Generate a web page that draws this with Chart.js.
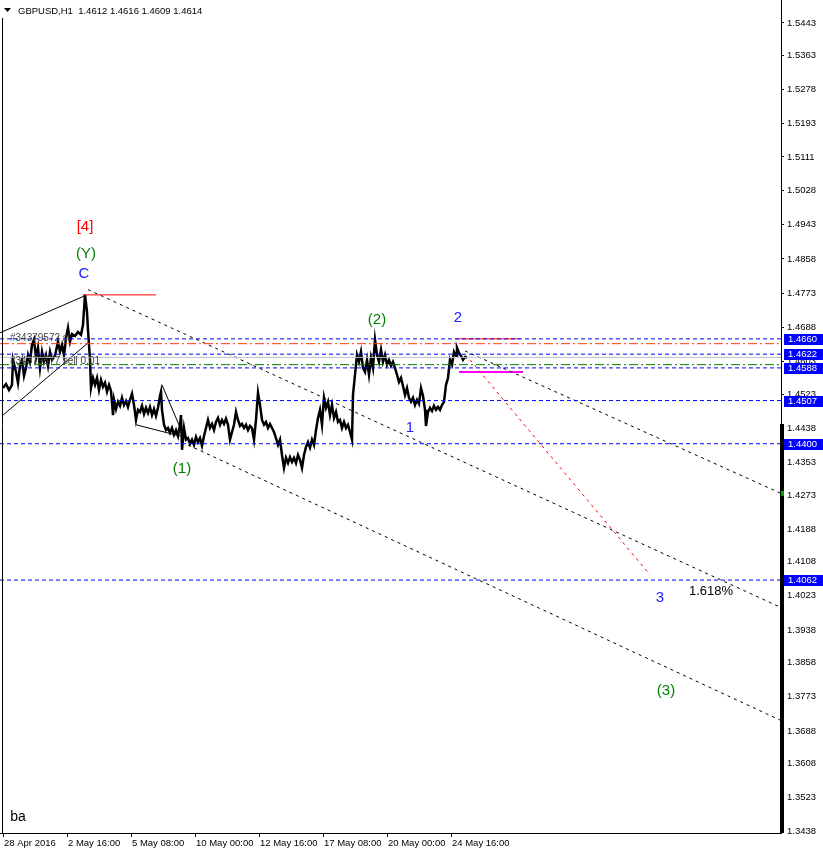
<!DOCTYPE html>
<html>
<head>
<meta charset="utf-8">
<script src="https://cdn.jsdelivr.net/npm/chart.js@4.4.0/dist/chart.umd.min.js"></script>
<style>
  html, body { margin: 0; padding: 0; background: #fff; }
</style>
</head>
<body>
<canvas id="chart" width="823" height="856"></canvas>
<script>
// GBPUSD H1, hourly bar offsets from 28 Apr 2016 and the price read at them
const hourIdx = [
  0, 3, 6, 9, 10, 13, 15, 17, 19, 21,
  23, 25, 27, 29, 31, 33, 35, 37, 39, 41,
  43, 45, 47, 49, 52, 55, 57, 59, 61, 63,
  65, 67, 69, 72, 75, 78, 80, 82, 84, 85,
  87, 88, 90, 92, 94, 96, 98, 100, 102, 104,
  106, 108, 110, 111, 113, 115, 117, 119, 121, 123,
  125, 127, 129, 131, 133, 135, 137, 139, 141, 143,
  145, 147, 149, 151, 153, 155, 157, 158, 159, 161,
  163, 165, 167, 169, 171, 173, 175, 177, 178, 179,
  181, 183, 185, 187, 189, 191, 193, 195, 197, 199,
  201, 203, 205, 207, 209, 211, 213, 215, 217, 219,
  221, 223, 225, 227, 229, 231, 233, 235, 237, 239,
  241, 243, 245, 247, 249, 251, 253, 255, 257, 259,
  261, 263, 265, 267, 269, 271, 273, 275, 277, 279,
  281, 283, 285, 287, 289, 291, 293, 295, 297, 299,
  301, 303, 305, 307, 309, 311, 313, 315, 317, 319,
  321, 323, 325, 327, 329, 331, 333, 335, 337, 339,
  341, 343, 345, 347, 349, 350, 352, 354, 356, 358,
  360, 362, 364, 366, 368, 370, 372, 374, 376, 378,
  380, 382, 384, 386, 388, 390, 392, 394, 396, 398,
  400, 402, 404, 406, 408, 410, 412, 414, 416, 418,
  420, 422, 423, 425, 427, 429, 431, 433, 435, 437,
  439, 441, 443, 445, 447, 449, 451, 453, 454, 456,
  458, 460, 462, 464
];
const closes = [
  1.4538, 1.4548, 1.4533, 1.4546, 1.4608, 1.4578, 1.4551, 1.4593, 1.4608, 1.4568,
  1.4588, 1.4620, 1.4603, 1.4645, 1.4658, 1.4613, 1.4638, 1.4588, 1.4628, 1.4603,
  1.4620, 1.4593, 1.4628, 1.4608, 1.4618, 1.4653, 1.4628, 1.4645, 1.4618, 1.4662,
  1.4687, 1.4653, 1.4672, 1.4667, 1.4677, 1.4670, 1.4695, 1.4769, 1.4727, 1.4682,
  1.4608, 1.4538, 1.4563, 1.4546, 1.4563, 1.4533, 1.4558, 1.4541, 1.4551, 1.4529,
  1.4546, 1.4531, 1.4471, 1.4509, 1.4486, 1.4504, 1.4494, 1.4514, 1.4496, 1.4506,
  1.4491, 1.4509, 1.4524, 1.4496, 1.4459, 1.4484, 1.4479, 1.4494, 1.4474, 1.4489,
  1.4476, 1.4491, 1.4471, 1.4486, 1.4469, 1.4489, 1.4519, 1.4529, 1.4484, 1.4447,
  1.4434, 1.4439, 1.4427, 1.4439, 1.4422, 1.4434, 1.4419, 1.4447, 1.4471, 1.4385,
  1.4439, 1.4410, 1.4414, 1.4400, 1.4410, 1.4397, 1.4417, 1.4404, 1.4414, 1.4395,
  1.4419, 1.4439, 1.4459, 1.4439, 1.4449, 1.4434, 1.4454, 1.4464, 1.4447, 1.4459,
  1.4449, 1.4462, 1.4447, 1.4410, 1.4429, 1.4447, 1.4479, 1.4459, 1.4444, 1.4449,
  1.4439, 1.4447, 1.4434, 1.4444, 1.4439, 1.4410, 1.4459, 1.4526, 1.4496, 1.4459,
  1.4447, 1.4454, 1.4439, 1.4449, 1.4439, 1.4429, 1.4414, 1.4397, 1.4410, 1.4372,
  1.4340, 1.4365, 1.4352, 1.4367, 1.4355, 1.4365, 1.4352, 1.4372, 1.4360, 1.4340,
  1.4372, 1.4392, 1.4404, 1.4390, 1.4410, 1.4397, 1.4434, 1.4464, 1.4484, 1.4447,
  1.4514, 1.4489, 1.4504, 1.4471, 1.4496, 1.4464, 1.4479, 1.4454, 1.4459, 1.4439,
  1.4454, 1.4439, 1.4447, 1.4429, 1.4410, 1.4521, 1.4571, 1.4620, 1.4603, 1.4628,
  1.4588, 1.4578, 1.4608, 1.4571, 1.4613, 1.4588, 1.4658, 1.4620, 1.4603, 1.4633,
  1.4603, 1.4620, 1.4596, 1.4608, 1.4593, 1.4603, 1.4588, 1.4571, 1.4553, 1.4563,
  1.4543, 1.4521, 1.4538, 1.4514, 1.4504, 1.4514, 1.4496, 1.4509, 1.4499, 1.4538,
  1.4519, 1.4484, 1.4444, 1.4479, 1.4489, 1.4481, 1.4494, 1.4484, 1.4491, 1.4484,
  1.4496, 1.4504, 1.4546, 1.4563, 1.4608, 1.4596, 1.4628, 1.4618, 1.4638, 1.4625,
  1.4618, 1.4608, 1.4615, 1.4614
];

// axis ticks
const timeTickIdx = [0, 64, 128, 192, 256, 320, 384, 448];
const timeTickText = ['28 Apr 2016', '2 May 16:00', '5 May 08:00', '10 May 00:00',
  '12 May 16:00', '17 May 08:00', '20 May 00:00', '24 May 16:00'];
const priceTicks = [1.5443, 1.5363, 1.5278, 1.5193, 1.5111, 1.5028, 1.4943, 1.4858,
  1.4773, 1.4688, 1.4603, 1.4523, 1.4438, 1.4353, 1.4273, 1.4188, 1.4108, 1.4023,
  1.3938, 1.3858, 1.3773, 1.3688, 1.3608, 1.3523, 1.3438];

// horizontal levels (blue dashed, with price boxes)
const levelPrices = [1.4660, 1.4622, 1.4588, 1.4507, 1.4400, 1.4062];
const slPrice = 1.4648;
const sellPrice = 1.4596;
const bidPrice = 1.4614;

// trend lines: [hourIdx, price] pairs
const channelTop = [[85, 1.4782], [777, 1.3995]];
const channelLow = [[185, 1.4397], [777, 1.3715]];
const channelWave2 = [[462, 1.4630], [777, 1.4278]];
const targetLine = [[467, 1.4608], [647, 1.4075]];
const wedgeUpper = [[-3, 1.4675], [82, 1.4767]];
const wedgeLower = [[0, 1.4471], [85, 1.4650]];
const triSide = [[133, 1.4447], [177, 1.4419]];
const triDiag = [[159, 1.4546], [179, 1.4429]];
const highLineC = [[80, 1.4769], [153, 1.4769]];
const highLine2 = [[452, 1.4660], [517, 1.4660]];
const magentaLine = [[456, 1.4578], [520, 1.4578]];

// wave labels
const waveText = ['[4]', '(Y)', 'C', '(1)', '(2)', '2', '1', '3', '(3)', '1.618%', 'ba'];
const waveIdx = [82, 83, 81, 179, 374, 455, 407, 657, 663, 708, 15];
const wavePrice = [1.4938, 1.4871, 1.4821, 1.4338, 1.4707, 1.4712, 1.4439, 1.4018, 1.3787, 1.4035, 1.3475];
const waveKind = ['red', 'green', 'blue', 'green', 'green', 'blue', 'blue', 'blue', 'green', 'black', 'black'];

const FONT = '"Liberation Sans", Arial, sans-serif';
const kindColor = { red: '#ff0000', green: '#008000', blue: '#2020ff', black: '#000000' };

function seg(pts, color, dash, width) {
  return {
    data: pts.map(p => ({ x: p[0], y: p[1] })),
    borderColor: color,
    borderWidth: width || 1,
    borderDash: dash || [],
    pointRadius: 0,
    fill: false,
    tension: 0,
    order: 1
  };
}
function hline(price, color, dash) {
  return seg([[-3, price], [778, price]], color, dash, 1);
}

const datasets = [];
levelPrices.forEach(p => datasets.push(hline(p, '#0000ff', [4, 3])));
datasets.push(hline(slPrice, '#ff3c00', [9, 3, 2, 3]));
datasets.push(hline(sellPrice, '#008000', [9, 3, 2, 3]));
datasets.push(hline(bidPrice, '#c0c0c0', []));
[channelTop, channelLow, channelWave2].forEach(l => datasets.push(seg(l, '#000', [3, 4], 1)));
datasets.push(seg(targetLine, '#ff0000', [3, 4], 1));
[wedgeUpper, wedgeLower, triSide, triDiag].forEach(l => datasets.push(seg(l, '#000', [], 1)));
datasets.push(seg(highLineC, '#ff0000', [], 1));
datasets.push(seg(highLine2, '#ff0000', [], 1));
datasets.push(seg(magentaLine, '#ff00ff', [], 2));
datasets.push({
  data: hourIdx.map((h, i) => ({ x: h, y: closes[i] })),
  borderColor: '#000',
  borderWidth: 2.5,
  pointRadius: 0,
  fill: false,
  tension: 0,
  order: 10
});

const overlay = {
  id: 'overlay',
  afterDraw(chart) {
    const ctx = chart.ctx;
    const xs = chart.scales.x, ys = chart.scales.y;
    const area = chart.chartArea;
    ctx.save();

    // frame
    ctx.strokeStyle = '#000';
    ctx.lineWidth = 1;
    ctx.beginPath();
    ctx.moveTo(2.5, 18); ctx.lineTo(2.5, area.bottom);
    ctx.stroke();

    // title
    ctx.fillStyle = '#000';
    ctx.beginPath();
    ctx.moveTo(4, 8); ctx.lineTo(11, 8); ctx.lineTo(7.5, 12); ctx.closePath();
    ctx.fill();
    ctx.font = '9.5px ' + FONT;
    ctx.textAlign = 'left';
    ctx.textBaseline = 'alphabetic';
    ctx.fillText('GBPUSD,H1  1.4612 1.4616 1.4609 1.4614', 18, 14);

    // order labels
    ctx.fillStyle = '#404040';
    ctx.font = '10px ' + FONT;
    ctx.fillText('#34379572 sl', 10, ys.getPixelForValue(slPrice) - 3);
    ctx.fillText('#34379577 sell 0.01', 10, ys.getPixelForValue(sellPrice) - 1);

    // wave labels
    ctx.textAlign = 'center';
    ctx.textBaseline = 'middle';
    waveText.forEach((t, i) => {
      const size = t === '1.618%' ? 13 : (t === 'ba' ? 14 : 15);
      ctx.font = size + 'px ' + FONT;
      ctx.fillStyle = kindColor[waveKind[i]];
      ctx.fillText(t, xs.getPixelForValue(waveIdx[i]), ys.getPixelForValue(wavePrice[i]));
    });

    // thick axis segment and marker
    ctx.fillStyle = '#000';
    const yTop = ys.getPixelForValue(1.4449);
    ctx.fillRect(area.right - 1, yTop, 4, area.bottom - yTop);
    ctx.fillStyle = '#00a000';
    ctx.fillRect(area.right, ys.getPixelForValue(channelWave2[1][1]) - 2, 3, 5);

    // price boxes
    ctx.font = '9.5px ' + FONT;
    levelPrices.forEach(p => {
      const yy = Math.round(ys.getPixelForValue(p));
      ctx.fillStyle = '#0000ff';
      ctx.fillRect(area.right + 3, yy - 5, 39, 11);
      ctx.fillStyle = '#fff';
      ctx.textAlign = 'left';
      ctx.fillText(p.toFixed(4), area.right + 7, yy + 0.5);
    });
    ctx.restore();
  }
};

new Chart(document.getElementById('chart').getContext('2d'), {
  type: 'line',
  data: { datasets: datasets },
  options: {
    responsive: false,
    animation: false,
    devicePixelRatio: 1,
    layout: { padding: 0 },
    plugins: { legend: { display: false }, tooltip: { enabled: false } },
    scales: {
      x: {
        type: 'linear',
        position: 'bottom',
        min: -3,
        max: 778,
        afterBuildTicks: s => { s.ticks = timeTickIdx.map(v => ({ value: v })); },
        afterFit: s => { s.height = 23; s.paddingLeft = 0; s.paddingRight = 0; },
        ticks: {
          autoSkip: false, maxRotation: 0, minRotation: 0,
          align: 'start', labelOffset: 1, padding: 1,
          color: '#000', font: { family: FONT, size: 9.5 },
          callback: (v, i) => timeTickText[i]
        },
        grid: { drawOnChartArea: false, tickLength: 4, color: '#000' },
        border: { color: '#000' }
      },
      y: {
        type: 'linear',
        position: 'right',
        min: 1.3435,
        max: 1.5500,
        afterBuildTicks: s => { s.ticks = priceTicks.map(v => ({ value: v })); },
        afterFit: s => { s.width = 42; s.paddingTop = 0; s.paddingBottom = 0; },
        ticks: {
          padding: 3, color: '#000', font: { family: FONT, size: 9.5 },
          callback: v => v.toFixed(4)
        },
        grid: { drawOnChartArea: false, tickLength: 3, color: '#000' },
        border: { color: '#000' }
      }
    }
  },
  plugins: [overlay]
});
</script>
</body>
</html>
